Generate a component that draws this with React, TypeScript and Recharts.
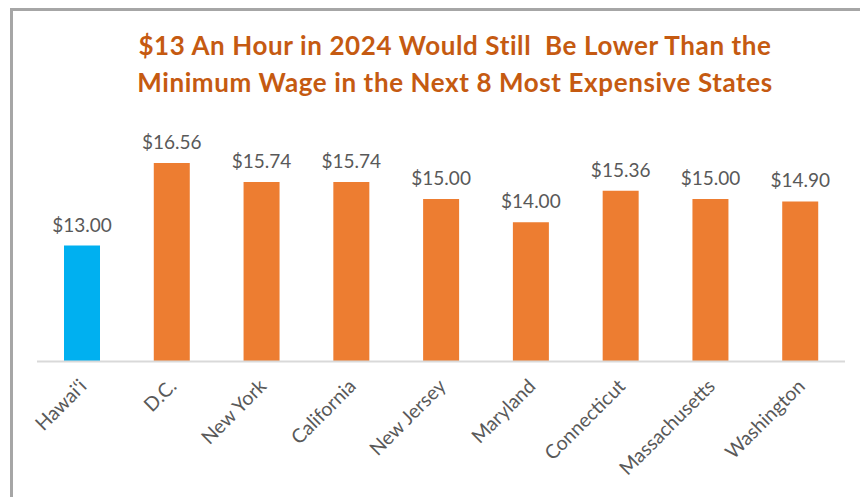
import React from 'react';
import { BarChart, Bar, XAxis, YAxis, Cell, LabelList } from 'recharts';

const states = ['Hawai\u02bbi', 'D.C.', 'New York', 'California', 'New Jersey', 'Maryland', 'Connecticut', 'Massachusetts', 'Washington'];
const wages = [13.0, 16.56, 15.74, 15.74, 15.0, 14.0, 15.36, 15.0, 14.9];
const barColors = ['#00B0F0', '#ED7D31', '#ED7D31', '#ED7D31', '#ED7D31', '#ED7D31', '#ED7D31', '#ED7D31', '#ED7D31'];
const titleLines = ['$13 An Hour in 2024 Would Still  Be Lower Than the', 'Minimum Wage in the Next 8 Most Expensive States'];

const data = states.map((s, i) => ({ state: s, wage: wages[i] }));

const FONT = 'Lato, "Open Sans", sans-serif';

const Tick = (props: any) => {
  const { x, y, payload } = props;
  const ax = x + 6;
  const ay = y + 18;
  return (
    <text x={ax} y={ay} transform={`rotate(-45, ${ax}, ${ay})`} textAnchor="end" fill="#595959" fontSize={19.5} fontFamily={FONT}>
      {payload.value}
    </text>
  );
};

export default function App() {
  return (
    <div style={{ position: 'absolute', left: 0, top: 0, width: 860, height: 497, overflow: 'hidden', background: '#fff' }}>
      <div style={{ position: 'absolute', left: 10, top: 8, width: 900, height: 540, borderTop: '3px solid #a6a6a6', borderLeft: '3px solid #a6a6a6', boxSizing: 'border-box' }} />
      <div style={{ position: 'absolute', left: 0, top: 0 }}>
        <BarChart width={860} height={497} data={data} margin={{ top: 129.5, right: 15, bottom: 15.5, left: 37 }}>
          <XAxis dataKey="state" height={120} tick={<Tick />} tickLine={false} axisLine={{ stroke: '#d9d9d9', strokeWidth: 2 }} interval={0} />
          <YAxis hide domain={[8, 18]} />
          <Bar dataKey="wage" barSize={36} isAnimationActive={false}>
            {data.map((d, i) => (
              <Cell key={d.state} fill={barColors[i]} />
            ))}
            <LabelList dataKey="wage" position="top" offset={14} fill="#595959" fontSize={19} fontFamily={FONT} formatter={(v: any) => `$${Number(v).toFixed(2)}`} />
          </Bar>
        </BarChart>
      </div>
      <div style={{ position: 'absolute', left: 0, width: 910, top: 27, textAlign: 'center', fontFamily: FONT, fontWeight: 700, fontSize: 26, letterSpacing: 0.6, color: '#C55A11', lineHeight: '37px', whiteSpace: 'pre' }}>
        {titleLines.map((t) => (
          <div key={t}>{t}</div>
        ))}
      </div>
    </div>
  );
}
